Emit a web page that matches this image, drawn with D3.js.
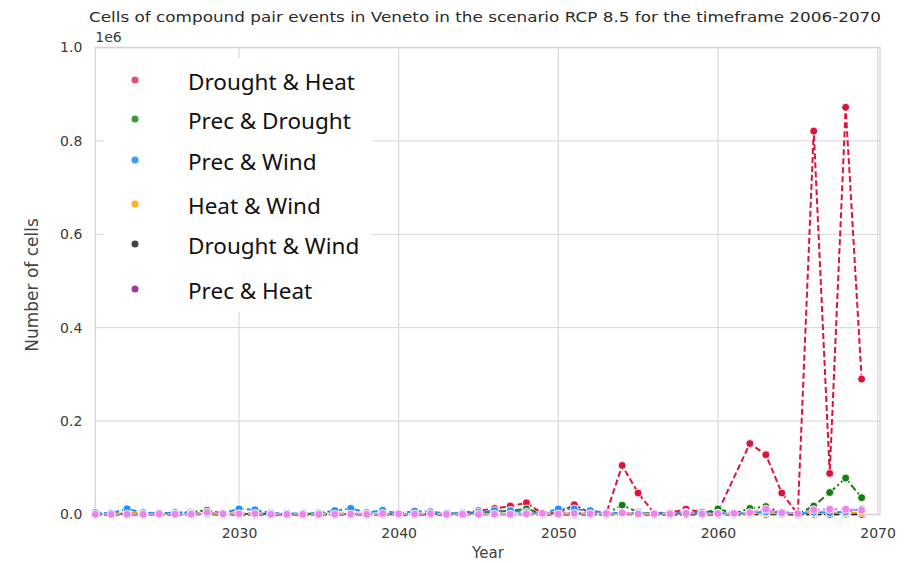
<!DOCTYPE html>
<html>
<head>
<meta charset="utf-8">
<script src="https://cdn.jsdelivr.net/npm/d3@7"></script>
<style>
  html, body { margin: 0; padding: 0; background: #fff; }
  svg { display: block; }
</style>
</head>
<body>
<svg id="chart" width="918" height="563"></svg>
<script>
// Years covered by the series
const years = d3.range(2021, 2070);

// Number of cells per year for each compound pair (null = no value)
const droughtHeat = [1000, 500, 1500, 800, 1200, 2000, 1500, 2500, 1000, 1500,
  2000, 800, 500, 1000, 1500, 1000, 2000, 1000, 1500, 800,
  500, 1000, 1500, 3000, 8000, 13000, 18000, 25000, 2000, 3000,
  21000, 3000, 2000, 105000, 46000, 3000, 4000, 11000, 5000, 6000,
  null, 152000, 128000, 46000, 1000, 821000, 88000, 872000, 290000];
const precDrought = [1000, 1500, 2000, 3000, 2500, 4000, 5000, 9000, 2000, 1000,
  1500, 1000, 500, 800, 1000, 1500, 1000, 800, 1000, 500,
  800, 1000, 1500, 2000, 4000, 6000, 8000, 12000, 2000, 1500,
  3000, 1500, 2000, 20000, 5000, 1500, 2000, 3000, 2000, 12000,
  2000, 13000, 17000, 4000, 1000, 18000, 47000, 78000, 36000];
const precWind = [4000, 3000, 12000, 4000, 3000, 4000, 3000, 2500, 3000, 12000,
  10000, 3000, 2500, 2000, 3000, 8000, 13000, 4000, 9000, 2000,
  7000, 6000, 2500, 3000, 5000, 8000, 8000, 5000, 2000, 12000,
  12000, 8000, 4000, 3000, 2500, 3000, 2500, 4000, 5000, 3000,
  2000, 3000, 6000, 5000, 2000, 5000, 4000, 6000, 12000];
const heatWind = [1000, 3000, 4000, 2000, 3000, 1500, 1000, 2000, 1000, 2000,
  1500, 1000, 500, 2000, 4000, 2000, 1000, 1500, 1000, 500,
  1000, 800, 1500, 2000, 1000, 2000, 1500, 1000, 800, 1500,
  2000, 1000, 2000, 1500, 1000, 2000, 1500, 4000, 2000, 1500,
  1000, 2000, 3000, 2000, 3000, 3000, 4000, 3000, 4000];
const droughtWind = [200, 300, 100, 200, 300, 200, 300, 400, 200, 200,
  100, 200, 100, 100, 200, 200, 100, 200, 100, 100,
  100, 200, 200, 300, 300, 400, 300, 500, 200, 100,
  200, 200, 100, 600, 300, 200, 100, 300, 200, 200,
  100, 500, 500, 300, 100, 800, 500, 900, 500];
const precHeat = [300, 500, 600, 400, 1500, 500, 600, 5000, 1500, 1500,
  2000, 500, 400, 300, 500, 600, 800, 500, 2000, 1500,
  1000, 2000, 500, 600, 500, 800, 600, 1500, 2500, 1000,
  2500, 1500, 2000, 3500, 1500, 1500, 1500, 2500, 1500, 2000,
  2500, 4000, 11000, 3500, 2000, 10000, 11000, 11000, 9000];

const seriesNames = ["Drought & Heat", "Prec & Drought", "Prec & Wind",
  "Heat & Wind", "Drought & Wind", "Prec & Heat"];
const seriesValues = [droughtHeat, precDrought, precWind, heatWind, droughtWind, precHeat];
const lineColors = ["#dc143c", "#118011", "#1e90ff", "#ffa500", "#111111", "#ee82ee"];
const legendColors = ["#e2506b", "#3a9a3a", "#3a9cff", "#ffb02e", "#444444", "#9a3a9e"];
const lineDashes = ["6,3", "7,3,2,3", "6,3", "6,3", "6,3", "6,3"];
// Paint order of the series, bottom first
const drawOrder = [0, 1, 4, 3, 2, 5];

const xTicks = [2030, 2040, 2050, 2060, 2070];
const yTicks = [0, 0.2e6, 0.4e6, 0.6e6, 0.8e6, 1.0e6];

const titleText = "Cells of compound pair events in Veneto in the scenario RCP 8.5 for the timeframe 2006-2070";

// Layout
const plot = { left: 95.3, right: 880, top: 47.5, bottom: 514.5 };
const svg = d3.select("#chart");
const textColor = "#2b2b2b";

const x = d3.scaleLinear().domain([2021, 2070.15]).range([plot.left, plot.right]);
const y = d3.scaleLinear().domain([0, 1.0e6]).range([plot.bottom, plot.top]);

// Grid
const grid = svg.append("g");
grid.selectAll("line.hg").data(yTicks).join("line")
  .attr("x1", plot.left).attr("x2", plot.right)
  .attr("y1", d => y(d)).attr("y2", d => y(d))
  .attr("stroke", "#dddddd").attr("stroke-width", 1.3);
grid.selectAll("line.vg").data(xTicks).join("line")
  .attr("x1", d => x(d)).attr("x2", d => x(d))
  .attr("y1", plot.top).attr("y2", plot.bottom)
  .attr("stroke", "#dddddd").attr("stroke-width", 1.3);

// Frame
svg.append("rect")
  .attr("x", plot.left).attr("y", plot.top)
  .attr("width", plot.right - plot.left).attr("height", plot.bottom - plot.top)
  .attr("fill", "none").attr("stroke", "#d4d4d4").attr("stroke-width", 1.3);

// Axes
const fmtY = d => (d / 1e6).toFixed(1);
const yAxis = svg.append("g")
  .attr("transform", `translate(${plot.left},0)`)
  .call(d3.axisLeft(y).tickValues(yTicks).tickFormat(fmtY).tickSize(0).tickPadding(13));
const xAxis = svg.append("g")
  .attr("transform", `translate(0,${plot.bottom})`)
  .call(d3.axisBottom(x).tickValues(xTicks).tickFormat(d3.format("d")).tickSize(0).tickPadding(14));
[yAxis, xAxis].forEach(a => {
  a.select(".domain").remove();
  a.selectAll("text")
    .attr("font-family", "DejaVu Sans, sans-serif")
    .attr("font-size", 14)
    .attr("fill", "#3a3a3a");
});

// Offset text above the y axis
svg.append("text")
  .attr("x", plot.left).attr("y", 42)
  .attr("font-family", "DejaVu Sans, sans-serif").attr("font-size", 14)
  .attr("fill", "#3a3a3a").text("1e6");

// Axis labels
svg.append("text")
  .attr("transform", `translate(38,${(plot.top + plot.bottom) / 2 + 4}) rotate(-90)`)
  .attr("text-anchor", "middle")
  .attr("font-family", "DejaVu Sans, sans-serif").attr("font-size", 17)
  .attr("fill", "#444").text("Number of cells");
svg.append("text")
  .attr("x", 488).attr("y", 558)
  .attr("text-anchor", "middle")
  .attr("font-family", "DejaVu Sans, sans-serif").attr("font-size", 15)
  .attr("fill", "#444").text("Year");

// Title
svg.append("text")
  .attr("x", 89).attr("y", 22)
  .attr("font-family", "DejaVu Sans, sans-serif").attr("font-size", 14.5)
  .attr("fill", textColor)
  .attr("textLength", 792).attr("lengthAdjust", "spacingAndGlyphs")
  .text(titleText);

// Series lines and markers
const line = d3.line().x(d => x(d.year)).y(d => y(d.value));
const marks = svg.append("g");
drawOrder.forEach(i => {
  const vals = seriesValues[i];
  const pts = years.map((yr, j) => ({ year: yr, value: vals[j] }))
    .filter(d => d.value !== null);
  marks.append("path")
    .datum(pts)
    .attr("d", line)
    .attr("fill", "none")
    .attr("stroke", lineColors[i])
    .attr("stroke-width", 2)
    .attr("stroke-dasharray", lineDashes[i]);
  marks.append("g").selectAll("circle").data(pts).join("circle")
    .attr("cx", d => x(d.year)).attr("cy", d => y(d.value))
    .attr("r", 4)
    .attr("fill", lineColors[i])
    .attr("stroke", "#fff").attr("stroke-width", 0.9);
});

// Legend
const legend = svg.append("g");
legend.append("rect")
  .attr("x", 104).attr("y", 58).attr("width", 268).attr("height", 254)
  .attr("fill", "#fff");
const legendY = [82, 121, 162, 206, 246, 291];
seriesNames.forEach((name, i) => {
  legend.append("circle")
    .attr("cx", 135).attr("cy", legendY[i] - 2).attr("r", 3.5)
    .attr("fill", legendColors[i]);
  legend.append("text")
    .attr("x", 188).attr("y", legendY[i] + 8)
    .attr("font-family", "Noto Sans, sans-serif").attr("font-size", 22.5)
    .attr("fill", "#111").text(name);
});
</script>
</body>
</html>
